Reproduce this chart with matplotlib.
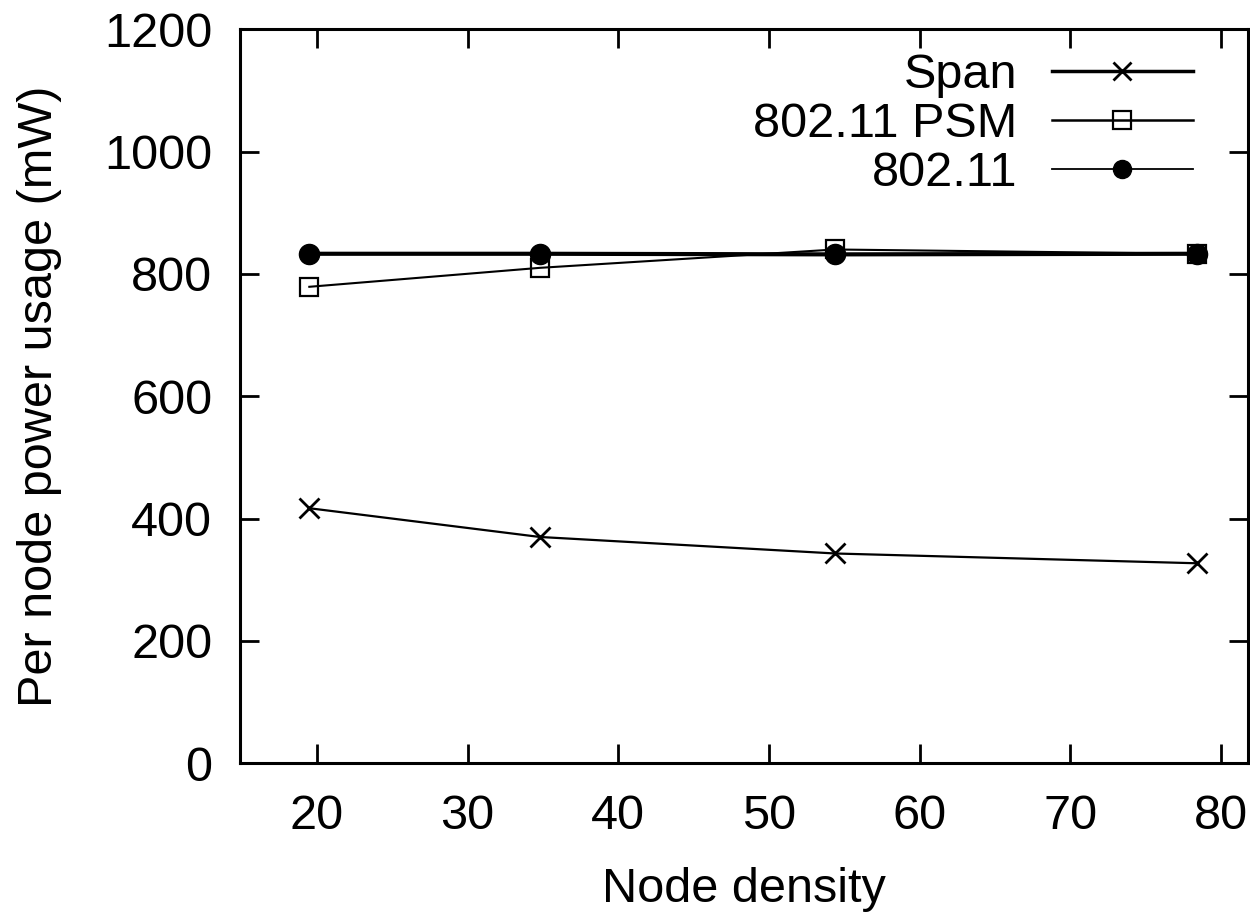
import matplotlib
matplotlib.use("Agg")
import matplotlib.pyplot as plt
from matplotlib.lines import Line2D

# data
density = [19.5, 34.8, 54.4, 78.4]
span = [417, 370, 343, 327]
psm = [779, 810, 840, 833]
dot11 = [833, 833, 832, 833]

plt.rcParams['font.family'] = ['Liberation Sans', 'DejaVu Sans']
fs = 35

fig = plt.figure(figsize=(12.5, 9.15), dpi=100)
ax = fig.add_axes([0.192, 0.1658, 0.8064, 0.8022])

ax.plot(density, dot11, color='black', lw=3.0, marker='o', ms=14.5, zorder=3)
ax.plot(density, psm, color='black', lw=1.5, marker='s', ms=13.5,
        mfc='none', mew=1.6, zorder=4)
ax.plot(density, span, color='black', lw=1.6, marker='x', ms=14, mew=2.0, zorder=4)

ax.set_xlim(14.9, 81.8)
ax.set_ylim(0, 1200)
ax.set_xticks([20, 30, 40, 50, 60, 70, 80])
ax.set_yticks(range(0, 1201, 200))

for s in ax.spines.values():
    s.set_linewidth(2.2)
ax.tick_params(direction='in', length=14, width=2, top=True, right=True,
               labelsize=fs, pad=22)
ax.tick_params(axis='y', pad=20)

ax.set_xlabel('Node density', fontsize=fs, labelpad=20)
ax.set_ylabel('Per node power usage (mW)', fontsize=fs, labelpad=30)

handles = [
    Line2D([], [], color='black', lw=2.5, marker='x', ms=13, mew=2.0),
    Line2D([], [], color='black', lw=1.8, marker='s', ms=13, mfc='none', mew=1.6),
    Line2D([], [], color='black', lw=1.3, marker='o', ms=13),
]
ax.legend(handles, ['Span', '802.11 PSM', '802.11'], loc='upper right',
          bbox_to_anchor=(0.945, 0.968), frameon=False, markerfirst=False,
          fontsize=fs, handlelength=2.9, handletextpad=0.7,
          labelspacing=0.08, borderpad=0, borderaxespad=0)

fig.savefig('out.png', dpi=100)
